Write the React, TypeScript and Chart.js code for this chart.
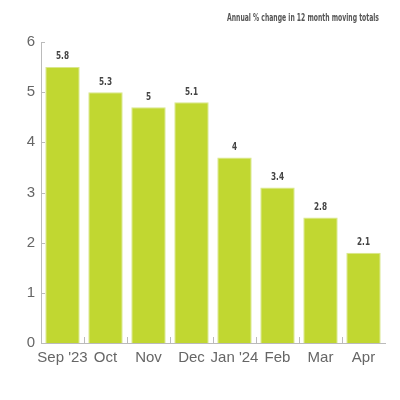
import { useEffect, useRef } from 'react';
import { Chart, registerables, Plugin } from 'chart.js';

Chart.register(...registerables);

// data
const months = ["Sep '23", 'Oct', 'Nov', 'Dec', "Jan '24", 'Feb', 'Mar', 'Apr'];
const barHeights = [5.5, 5.0, 4.7, 4.8, 3.7, 3.1, 2.5, 1.8];
const valueLabels = ['5.8', '5.3', '5', '5.1', '4', '3.4', '2.8', '2.1'];
const yTicks = [1, 2, 3, 4, 5, 6];
const title = 'Annual % change in 12 month moving totals';

const NARROW = "'DejaVu Sans Condensed', 'Liberation Sans', sans-serif";

// small inward tick marks on both axes
const innerTicks: Plugin<'bar'> = {
  id: 'innerTicks',
  beforeDatasetsDraw(chart) {
    const { ctx, scales } = chart;
    const x = scales.x;
    const y = scales.y;
    ctx.save();
    ctx.strokeStyle = '#bbbbbb';
    ctx.lineWidth = 1;
    ctx.beginPath();
    yTicks.forEach((v) => {
      const py = Math.round(y.getPixelForValue(v)) + 0.5;
      ctx.moveTo(x.left, py);
      ctx.lineTo(x.left + 4, py);
    });
    for (let i = 1; i < months.length; i++) {
      const px = Math.round((x.getPixelForValue(i - 1) + x.getPixelForValue(i)) / 2) + 0.5;
      ctx.moveTo(px, y.bottom);
      ctx.lineTo(px, y.bottom - 6);
    }
    ctx.stroke();
    ctx.restore();
  },
};

// condensed bold value labels above the bars
const valueText: Plugin<'bar'> = {
  id: 'valueText',
  afterDatasetsDraw(chart) {
    const { ctx } = chart;
    const meta = chart.getDatasetMeta(0);
    ctx.font = `bold 11px ${NARROW}`;
    ctx.fillStyle = '#444444';
    ctx.textAlign = 'center';
    ctx.textBaseline = 'middle';
    meta.data.forEach((bar, i) => {
      ctx.save();
      ctx.translate(bar.x, bar.y - 10.5);
      ctx.scale(0.74, 1);
      ctx.fillText(valueLabels[i], 0, 0);
      ctx.restore();
    });
  },
};

const titleText: Plugin<'bar'> = {
  id: 'titleText',
  afterDraw(chart) {
    const { ctx } = chart;
    ctx.save();
    ctx.font = `bold 10px ${NARROW}`;
    ctx.fillStyle = '#555555';
    ctx.textAlign = 'right';
    ctx.textBaseline = 'middle';
    const w = ctx.measureText(title).width;
    ctx.translate(379, 18);
    ctx.scale(152 / w, 1);
    ctx.fillText(title, 0, 0);
    ctx.restore();
  },
};

export default function App() {
  const chartRef = useRef<HTMLCanvasElement | null>(null);

  useEffect(() => {
    if (!chartRef.current) return;
    const ctx = chartRef.current.getContext('2d');
    if (!ctx) return;

    const chart = new Chart(ctx, {
      type: 'bar',
      data: {
        labels: months,
        datasets: [
          {
            data: barHeights,
            backgroundColor: '#c1d731',
            borderColor: '#d9e78c',
            borderWidth: 1,
            barPercentage: 0.8,
            categoryPercentage: 1.0,
          },
        ],
      },
      options: {
        responsive: true,
        maintainAspectRatio: false,
        animation: false,
        layout: { padding: { left: 0, right: 15, top: 42, bottom: 0 } },
        plugins: {
          legend: { display: false },
          tooltip: { enabled: false },
        },
        scales: {
          x: {
            grid: { display: false, drawTicks: false },
            border: { display: true, color: '#bbbbbb', width: 1 },
            ticks: {
              color: '#666666',
              font: { family: "'Liberation Sans', Arial, sans-serif", size: 15 },
              padding: 6,
              maxRotation: 0,
              autoSkip: false,
            },
            afterFit(scale) {
              scale.height = 57;
            },
          },
          y: {
            min: 0,
            max: 6,
            grid: { display: false, drawTicks: false },
            border: { display: true, color: '#bbbbbb', width: 1 },
            ticks: {
              stepSize: 1,
              color: '#666666',
              font: { family: "'Liberation Sans', Arial, sans-serif", size: 15 },
              padding: 6,
            },
            afterFit(scale) {
              scale.width = 41;
            },
          },
        },
      },
      plugins: [innerTicks, valueText, titleText],
    });

    return () => {
      chart.destroy();
    };
  }, []);

  return (
    <div style={{ position: 'absolute', left: 0, top: 0, width: 400, height: 400 }}>
      <canvas ref={chartRef}></canvas>
    </div>
  );
}
